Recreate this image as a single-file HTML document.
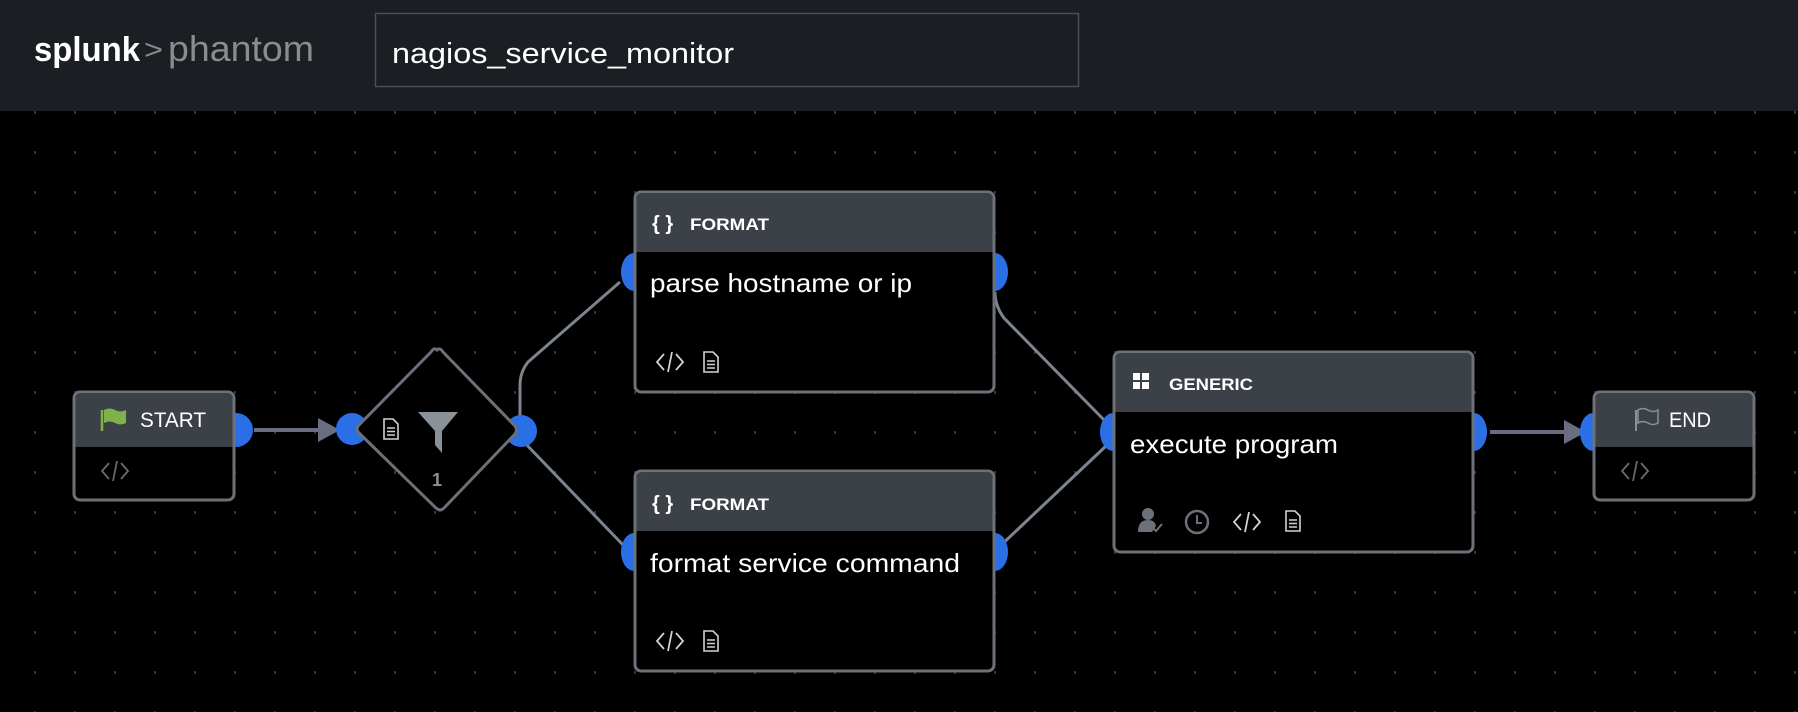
<!DOCTYPE html>
<html><head><meta charset="utf-8"><style>
html,body{margin:0;padding:0;background:#000;width:1798px;height:712px;overflow:hidden;font-family:"Liberation Sans",sans-serif}
</style></head><body>
<svg width="1798" height="712" xmlns="http://www.w3.org/2000/svg" style="display:block">
<defs>
<pattern id="dots" x="0" y="0" width="40" height="40" patternUnits="userSpaceOnUse">
<rect x="34" y="31" width="2" height="3" fill="#33363b"/>
</pattern>
<g id="doc"><path d="M0 0h9l5 5v15h-14z" fill="none" stroke="#d0d3d6" stroke-width="1.6"/><path d="M3 9h8M3 12.5h8M3 16h8" stroke="#d0d3d6" stroke-width="1.5"/></g>
<g id="code"><path d="M8 2l-7 8 7 8M20 2l7 8-7 8M16 0l-4 20" fill="none" stroke="#d0d3d6" stroke-width="1.8"/></g>
</defs>
<rect x="0" y="0" width="1798" height="712" fill="#000"/>
<rect x="0" y="111" width="1798" height="601" fill="url(#dots)"/>
<!-- header -->
<rect x="0" y="0" width="1798" height="111" fill="#1b1e22"/>
<text x="34" y="61" font-size="34" font-weight="bold" fill="#fff" textLength="106" lengthAdjust="spacingAndGlyphs">splunk</text>
<text x="144" y="59" font-size="28" fill="#8a8c8e" textLength="19" lengthAdjust="spacingAndGlyphs">&gt;</text>
<text x="168" y="61" font-size="36" fill="#8a8c8e" textLength="146" lengthAdjust="spacingAndGlyphs">phantom</text>
<rect x="375.5" y="13.5" width="703" height="73" fill="#1b1e22" stroke="#4a4e55" stroke-width="1.5"/>
<text x="392" y="63" font-size="29" fill="#fff" textLength="342" lengthAdjust="spacingAndGlyphs">nagios_service_monitor</text>

<!-- connectors -->
<g fill="none" stroke="#7d848c" stroke-width="3">
<path d="M520 430 V385 Q520 372 528 362 L620 282"/>
<path d="M522 440 L624 546"/>
<path d="M995 292 Q995 306 1004 318 L1106 422"/>
<path d="M998 548 L1106 446"/>
</g>
<g stroke="#6a6d82" stroke-width="4" fill="#6a6d82">
<line x1="254" y1="430" x2="320" y2="430"/>
<path d="M318 418 L340 430 L318 442 z" stroke="none"/>
<line x1="1490" y1="432" x2="1568" y2="432"/>
<path d="M1564 420 L1586 432 L1564 444 z" stroke="none"/>
</g>

<!-- ports -->
<g fill="#2b6fe6">
<circle cx="236" cy="430" r="17"/>
<circle cx="352" cy="429" r="16"/>
<circle cx="521" cy="431" r="16"/>
<ellipse cx="634" cy="272" rx="13" ry="19"/>
<ellipse cx="995" cy="272" rx="13" ry="19"/>
<ellipse cx="634" cy="552" rx="13" ry="19"/>
<ellipse cx="995" cy="552" rx="13" ry="19"/>
<ellipse cx="1113" cy="432" rx="13" ry="19"/>
<ellipse cx="1474" cy="432" rx="13" ry="19"/>
<ellipse cx="1593" cy="432" rx="13" ry="19"/>
</g>

<!-- START -->
<rect x="74" y="392" width="160" height="108" rx="6" fill="#000" stroke="#6b7079" stroke-width="3"/>
<path d="M75.5 447 V399 q0 -6 6 -6 h145 q6 0 6 6 V447z" fill="#3c4148"/>
<line x1="102" y1="410" x2="102" y2="431" stroke="#7fb24a" stroke-width="2.5"/>
<path d="M104 410 q6 -3 11 0 t11 0 v13 q-6 3 -11 0 t-11 0z" fill="#7fb24a"/>
<text x="140" y="427" font-size="21" fill="#fff" textLength="66" lengthAdjust="spacingAndGlyphs">START</text>
<use href="#code" x="101" y="461" opacity="0.5"/>

<!-- diamond -->
<path d="M437 350 Q440 347 443 352 L515 426 Q518 430 515 434 L444 508 Q440 512 436 508 L359 433 Q355 429 359 425 L431 352 Q434 347 437 350z" fill="#000" stroke="#6b7079" stroke-width="3"/>
<use href="#doc" x="384" y="419"/>
<path d="M418 412 h40 l-16 19 v22 l-7 -8 v-14z" fill="#8a9199"/>
<text x="437" y="486" font-size="18" font-weight="bold" fill="#8a9199" text-anchor="middle">1</text>

<!-- FORMAT 1 -->
<rect x="635" y="192" width="359" height="200" rx="6" fill="#000" stroke="#6b7079" stroke-width="3"/>
<path d="M636.5 252 V199 q0 -6 6 -6 h344 q6 0 6 6 V252z" fill="#3c4148"/>
<text x="652" y="230" font-size="20" font-weight="bold" fill="#fff">{ }</text>
<text x="690" y="230" font-size="17" font-weight="bold" fill="#fff" textLength="79" lengthAdjust="spacingAndGlyphs">FORMAT</text>
<text x="650" y="292" font-size="26" fill="#fff" textLength="262" lengthAdjust="spacingAndGlyphs">parse hostname or ip</text>
<use href="#code" x="656" y="352"/>
<use href="#doc" x="704" y="352"/>

<!-- FORMAT 2 -->
<rect x="635" y="471" width="359" height="200" rx="6" fill="#000" stroke="#6b7079" stroke-width="3"/>
<path d="M636.5 531 V478 q0 -6 6 -6 h344 q6 0 6 6 V531z" fill="#3c4148"/>
<text x="652" y="510" font-size="20" font-weight="bold" fill="#fff">{ }</text>
<text x="690" y="510" font-size="17" font-weight="bold" fill="#fff" textLength="79" lengthAdjust="spacingAndGlyphs">FORMAT</text>
<text x="650" y="572" font-size="26" fill="#fff" textLength="310" lengthAdjust="spacingAndGlyphs">format service command</text>
<use href="#code" x="656" y="631"/>
<use href="#doc" x="704" y="631"/>

<!-- GENERIC -->
<rect x="1114" y="352" width="359" height="200" rx="6" fill="#000" stroke="#6b7079" stroke-width="3"/>
<path d="M1115.5 412 V359 q0 -6 6 -6 h344 q6 0 6 6 V412z" fill="#3c4148"/>
<g fill="#fff"><rect x="1133" y="373" width="7" height="7"/><rect x="1142" y="373" width="7" height="7"/><rect x="1133" y="382" width="7" height="7"/><rect x="1142" y="382" width="7" height="7"/></g>
<text x="1169" y="390" font-size="17" font-weight="bold" fill="#fff" textLength="84" lengthAdjust="spacingAndGlyphs">GENERIC</text>
<text x="1130" y="453" font-size="26" fill="#fff" textLength="208" lengthAdjust="spacingAndGlyphs">execute program</text>
<g fill="#6b7079"><circle cx="1148" cy="514" r="6"/><path d="M1138 532 q0-12 10-12 q7 0 8 6 l-4 6z"/><path d="M1153 528 l3 3 6 -7" fill="none" stroke="#6b7079" stroke-width="2"/></g>
<circle cx="1197" cy="522" r="11" fill="none" stroke="#6b7079" stroke-width="2.5"/>
<path d="M1197 515 v8 h5" fill="none" stroke="#6b7079" stroke-width="2"/>
<use href="#code" x="1233" y="512"/>
<use href="#doc" x="1286" y="511"/>

<!-- END -->
<rect x="1594" y="392" width="160" height="108" rx="6" fill="#000" stroke="#6b7079" stroke-width="3"/>
<path d="M1595.5 447 V399 q0 -6 6 -6 h145 q6 0 6 6 V447z" fill="#3c4148"/>
<line x1="1636" y1="410" x2="1636" y2="431" stroke="#8a9199" stroke-width="2"/>
<path d="M1638 410 q5 -3 10 0 t10 0 v13 q-5 3 -10 0 t-10 0z" fill="none" stroke="#8a9199" stroke-width="1.5"/>
<text x="1669" y="427" font-size="21" fill="#fff" textLength="42" lengthAdjust="spacingAndGlyphs">END</text>
<use href="#code" x="1621" y="461" opacity="0.5"/>
</svg>
</body></html>
